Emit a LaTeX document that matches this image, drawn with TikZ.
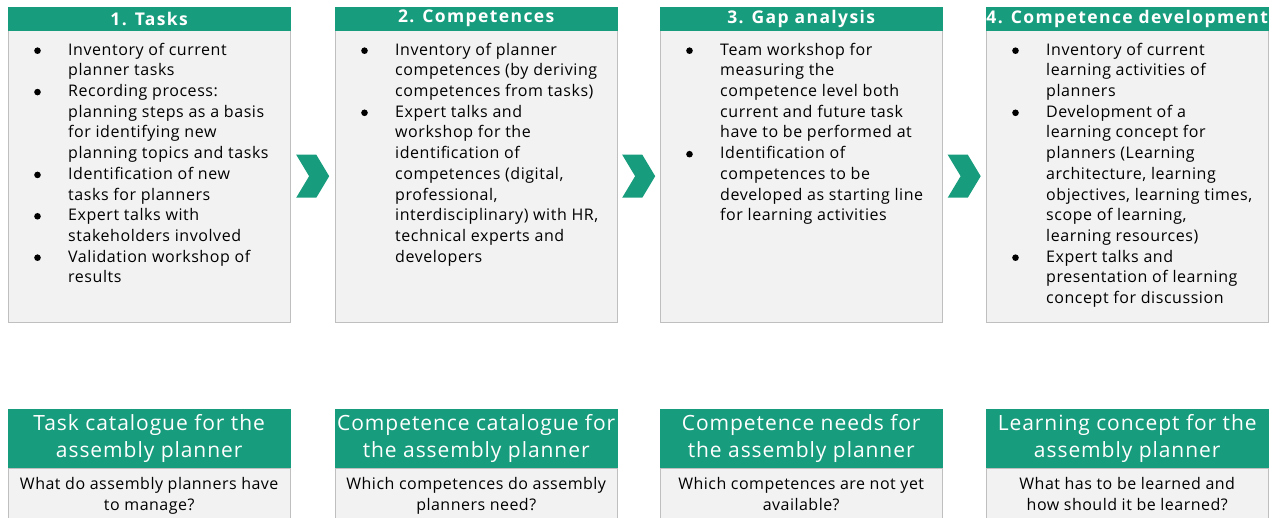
\documentclass[tikz,border=0pt]{standalone}
\usepackage{fontspec}
\setmainfont{Open Sans}
\usetikzlibrary{positioning,calc,shapes.symbols}

\definecolor{fhgreen}{HTML}{179C7D}
\definecolor{boxgray}{HTML}{F2F2F2}
\definecolor{edgegray}{HTML}{BFBFBF}

\newcommand{\listfont}{\fontsize{16}{20.7}\selectfont\addfontfeatures{LetterSpace=3.5}}
\newcommand{\bul}{\tikz[x=1pt,y=1pt,baseline=0pt]\fill (0,4.5) circle[radius=3.3pt];}

\tikzset{
  head/.style={fill=fhgreen, draw=fhgreen, text=white, anchor=north west,
    font=\bfseries\fontsize{17.5}{18}\selectfont\addfontfeatures{LetterSpace=8},
    minimum width=282pt, minimum height=23pt, inner sep=0pt},
  body/.style={fill=boxgray, draw=edgegray, anchor=north west,
    minimum width=282pt, minimum height=292pt, inner sep=0pt},
  items/.style={anchor=north west, inner sep=0pt, font=\listfont},
  chev/.style={shape=signal, signal to=east, signal from=west,
    signal pointer angle=118, fill=fhgreen, draw=none,
    minimum width=33pt, minimum height=43pt, inner sep=0pt},
  result/.style={fill=fhgreen, draw=fhgreen, text=white, anchor=north west,
    font=\fontsize{21}{27}\selectfont\addfontfeatures{LetterSpace=4.5},
    align=center, minimum width=282pt, minimum height=59pt, inner sep=0pt},
  question/.style={fill=boxgray, draw=edgegray, anchor=north west,
    font=\fontsize{16}{21}\selectfont\addfontfeatures{LetterSpace=3},
    align=center, execute at begin node=\strut, execute at end node=\strut,
    minimum width=282pt, minimum height=56pt, inner sep=0pt}
}

\begin{document}
\begin{tikzpicture}[x=1pt, y=-1pt]
  \useasboundingbox (0,0) rectangle (1275,517);

  % the four steps
  \node[body] (body1) at (8,30) {};
  \node[body] (body2) at (335,30) {};
  \node[body] (body3) at (660,30) {};
  \node[body] (body4) at (986,30) {};

  \node[head] (head1) at (8,7) {1. Tasks};
  \node[head] (head2) at (335,7) {2. Competences};
  \node[head] (head3) at (660,7) {3. Gap analysis};
  \node[head] (head4) at (986,7) {4. Competence development};

  \node[items] (list1) at ($(body1.north west)+(26,10.5)$) {%
    \begin{tabular}{@{}p{34pt}@{}l@{}}
      \bul & Inventory of current\\
           & planner tasks\\
      \bul & Recording process:\\
           & planning steps as a basis\\
           & for identifying new\\
           & planning topics and tasks\\
      \bul & Identification of new\\
           & tasks for planners\\
      \bul & Expert talks with\\
           & stakeholders involved\\
      \bul & Validation workshop of\\
           & results
    \end{tabular}};

  \node[items] (list2) at ($(body2.north west)+(26,10.5)$) {%
    \begin{tabular}{@{}p{34pt}@{}l@{}}
      \bul & Inventory of planner\\
           & competences (by deriving\\
           & competences from tasks)\\
      \bul & Expert talks and\\
           & workshop for the\\
           & identification of\\
           & competences (digital,\\
           & professional,\\
           & interdisciplinary) with HR,\\
           & technical experts and\\
           & developers
    \end{tabular}};

  \node[items] (list3) at ($(body3.north west)+(26,10.5)$) {%
    \begin{tabular}{@{}p{34pt}@{}l@{}}
      \bul & Team workshop for\\
           & measuring the\\
           & competence level both\\
           & current and future task\\
           & have to be performed at\\
      \bul & Identification of\\
           & competences to be\\
           & developed as starting line\\
           & for learning activities
    \end{tabular}};

  \node[items] (list4) at ($(body4.north west)+(26,10.5)$) {%
    \begin{tabular}{@{}p{34pt}@{}l@{}}
      \bul & Inventory of current\\
           & learning activities of\\
           & planners\\
      \bul & Development of a\\
           & learning concept for\\
           & planners (Learning\\
           & architecture, learning\\
           & objectives, learning times,\\
           & scope of learning,\\
           & learning resources)\\
      \bul & Expert talks and\\
           & presentation of learning\\
           & concept for discussion
    \end{tabular}};

  % chevrons between the steps
  \foreach \a/\b in {1/2, 2/3, 3/4}
    \node[chev] (chev\a) at ($(body\a.east)!0.5!(body\b.west)$) {};

  % results of each step
  \node[result] (res1) at (8,409) {Task catalogue for the\\assembly planner};
  \node[result] (res2) at (335,409) {Competence catalogue for\\the assembly planner};
  \node[result] (res3) at (660,409) {Competence needs for\\the assembly planner};
  \node[result] (res4) at (986,409) {Learning concept for the\\assembly planner};

  \node[question] (q1) at (res1.south west) {What do assembly planners have\\to manage?};
  \node[question] (q2) at (res2.south west) {Which competences do assembly\\planners need?};
  \node[question] (q3) at (res3.south west) {Which competences are not yet\\available?};
  \node[question] (q4) at (res4.south west) {What has to be learned and\\how should it be learned?};
\end{tikzpicture}
\end{document}
